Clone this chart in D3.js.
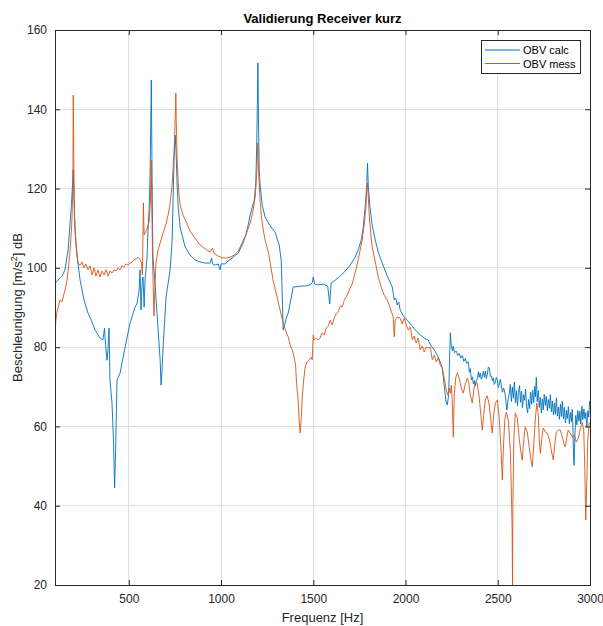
<!DOCTYPE html>
<html>
<head>
<meta charset="utf-8">
<script src="https://cdn.jsdelivr.net/npm/d3@7"></script>
<style>
  html, body { margin: 0; padding: 0; background: #fff; }
  svg { display: block; font-family: "Liberation Sans", Arial, Helvetica, sans-serif; }
</style>
</head>
<body>
<svg id="chart" width="603" height="626"></svg>
<script>
// Frequency response: computed vs measured acceleration level
const calcFreq = [100,116,138,154,171,181,189,195,199,203,208,219,236,257,279,301,317,344,360,368,374,382,387,393,398,409,417,423,428,436,453,480,507,534,545,556,561,566,572,577,583,588,599,604,610,615,620,622,625,629,631,642,659,670,675,680,686,702,724,735,740,745,751,756,762,767,778,805,832,859,886,914,941,949,954,968,984,995,1000,1022,1038,1065,1093,1120,1136,1147,1158,1169,1180,1188,1193,1198,1200,1203,1207,1212,1223,1239,1266,1293,1315,1326,1331,1337,1345,1353,1364,1380,1391,1407,1429,1456,1483,1494,1500,1508,1527,1554,1578,1589,1597,1619,1646,1673,1700,1727,1743,1760,1771,1782,1790,1794,1798,1806,1819,1836,1852,1874,1901,1928,1939,1947,1955,1963,1971,1988,2009,2031,2053,2080,2101,2123,2139,2156,2172,2188,2199,2210,2218,2226,2234,2240,2243,2248,2254,2259,2265,2275,2283,2291,2300,2308,2316,2324,2332,2340,2346,2351,2357,2362,2368,2373,2379,2384,2390,2395,2400,2405,2411,2416,2422,2427,2433,2438,2444,2449,2455,2460,2466,2471,2476,2481,2487,2492,2498,2503,2509,2514,2520,2525,2532,2541,2549,2557,2563,2568,2574,2579,2585,2590,2596,2601,2607,2612,2618,2623,2629,2634,2640,2645,2651,2656,2662,2667,2673,2678,2684,2689,2695,2700,2704,2709,2714,2720,2725,2731,2736,2742,2747,2752,2758,2763,2769,2774,2780,2785,2791,2796,2802,2807,2812,2818,2823,2829,2834,2840,2845,2850,2856,2861,2867,2872,2877,2883,2888,2894,2899,2904,2908,2911,2914,2918,2923,2929,2934,2940,2945,2950,2956,2961,2967,2972,2977,2983,2988,2993,2998,3000];
const calcDb = [96.2,96.9,97.9,99.5,104.5,110.8,115.9,120.9,124.7,117.1,109.5,103.2,96.9,91.9,88.6,86.3,84.3,82.3,81.8,84.8,80.5,76.7,79.3,84.8,71.7,65.9,56.6,44.5,52.8,71.7,73.5,80,86.1,90.1,91.1,94.4,99.5,89.4,95.7,97.7,90.1,96.9,102.7,109.5,114.6,122.2,139.8,147.4,129.7,109.5,102.7,96.2,84.3,76.7,70.4,74.2,80,92.6,99.5,107,117.1,127.2,133.5,129.7,120.9,115.9,110.3,105.3,103.2,102,101.5,101.2,101.2,102.5,101,100.7,101,99.5,101,101,101.7,102.7,103.7,106.3,108.5,110.8,113.3,115.3,117.1,120.9,129.7,144.9,151.7,137.3,124.7,120.9,115.9,112.8,110.6,109,105.8,102,94.4,84.3,85.6,87.3,88.6,92.4,95.2,95.2,95.4,95.4,95.7,96.2,97.7,95.9,95.7,95.9,95.4,90.9,96.2,96.9,97.9,99.2,100.7,102.7,104.5,107,110.3,115.9,120.9,126.4,120.9,115.9,110.8,107,104,101.2,97.9,95.2,91.9,92.4,90.6,91.4,89.4,87.9,86.8,85.6,84.3,83.1,82.3,81.8,80.3,79.3,78,76.3,74.8,70.4,66.7,65.4,67.9,79.3,83.6,80.5,79.1,80.2,78.6,79.0,77.9,78.4,77.2,77.9,76.4,77.1,75.9,76.3,73.7,74.6,71.7,72.5,70.7,71.6,70.2,71.4,72.2,73.8,72.4,73.5,71.9,72.7,73.9,72.4,74,72.1,73.2,75.0,74.7,72.6,72.7,71.5,72.2,70.6,71.2,72.4,71.7,69.8,70.7,71.9,70.2,68.6,69.7,67.9,64.1,67.1,68.4,70.6,66.3,69.9,67.1,71.2,66.0,69.0,65.2,68.5,70.3,66.1,68.9,64.7,68.0,66.6,69.4,65.0,63.4,66.8,64.5,68.7,65.6,69.2,66.0,70.1,67.5,72.4,66.2,69.0,64.8,67.3,63.4,66.9,64.2,68.1,65.3,67.6,63.9,66.8,64.6,68.0,63.7,66.4,62.9,65.9,63.1,67.2,62.6,64.9,61.8,65.6,62.5,66.3,61.9,64.8,60.9,64.1,62.0,65.0,60.7,63.6,61.2,64.3,58.5,52.0,50.2,57.5,62.8,60.4,64.0,61.3,63.8,60.6,65.1,61.7,64.4,62.0,63.5,59.8,63.9,62.4,66.3,65.4,67.0];

const messFreq = [100,105,111,116,127,138,146,154,165,176,184,192,197,199,202,206,214,225,236,246,257,268,279,290,301,312,322,333,344,355,366,377,388,398,409,420,431,442,453,463,474,485,496,507,518,529,539,550,561,569,574,579,583,588,599,610,618,621,625,629,634,637,642,648,659,670,686,702,713,724,735,743,748,753,755,757,762,770,778,794,811,832,859,886,914,941,954,962,984,1006,1027,1049,1071,1093,1114,1136,1158,1174,1185,1193,1199,1203,1210,1218,1229,1239,1256,1266,1282,1304,1320,1337,1353,1364,1375,1386,1396,1404,1410,1418,1423,1429,1434,1440,1448,1456,1467,1478,1489,1494,1500,1505,1516,1527,1537,1548,1559,1570,1581,1592,1603,1613,1624,1635,1646,1657,1668,1678,1689,1700,1711,1722,1733,1743,1754,1765,1776,1785,1790,1794,1798,1803,1811,1819,1836,1852,1868,1884,1901,1917,1933,1939,1944,1955,1971,1982,1993,2004,2015,2026,2037,2047,2058,2069,2080,2091,2101,2112,2123,2134,2145,2156,2166,2177,2188,2199,2210,2221,2229,2237,2243,2248,2253,2259,2264,2272,2281,2291,2302,2313,2324,2335,2343,2351,2362,2370,2378,2389,2400,2411,2416,2424,2432,2443,2454,2465,2470,2478,2487,2498,2508,2519,2525,2530,2538,2546,2557,2568,2573,2578,2580,2582,2587,2595,2606,2617,2628,2633,2641,2649,2660,2671,2682,2687,2695,2703,2712,2720,2725,2731,2739,2747,2758,2769,2780,2790,2801,2809,2817,2828,2839,2850,2861,2866,2874,2882,2893,2904,2915,2926,2937,2948,2958,2966,2972,2977,2983,2988,2996,3000];
const messDb = [83.6,86.8,88.9,89.9,91.9,91.4,92.9,94.4,96.9,101.5,105.8,112.1,122.2,143.6,127.2,113.3,105.8,101.2,100.7,101.5,100,101,99.5,100.5,98.2,100,97.9,99.5,97.7,99.2,98.2,99.5,97.9,99.2,98.7,99.5,99.2,100,99.5,100.5,100.2,101,100.7,101.2,101.5,102,102.2,102.7,102,101.2,98.2,116.4,108.3,108.8,109.8,111.6,117.1,127.2,114.6,102,91.9,87.9,95.7,101.5,104.5,106.3,108.8,111.1,113.3,116.4,120.9,127.2,132.3,139.8,144.1,137.3,127.2,119.6,115.9,113.3,111.6,109.3,107.5,105.8,104.8,104,105,103.7,103,102.5,102.5,102.7,103.2,104.2,106.3,108.5,111.3,114.6,117.9,123.4,131.5,124.7,118.4,113.3,109.5,107,104,101.5,96.9,92.6,89.4,86.1,83.8,82.6,80.5,79.3,77.5,75.5,70.4,66.7,61.6,58.3,61.6,67.2,71.7,75,76.3,76.8,77.5,76.8,83.1,81.8,82.3,81.8,82.3,83.6,83.1,84.8,85.3,86.8,85.6,87.3,88.4,88.9,90.4,90.1,91.9,92.6,93.7,94.9,95.9,97.9,99.9,102,104.5,107,110.8,115.1,119.1,121.4,118.4,113.3,109,105.3,101.5,97.7,95.2,93.1,91.9,89.9,87.6,82.6,86.8,87.6,87.3,85.8,87.3,85.6,84.3,85.1,81.8,82.8,81,82.3,79.3,80.3,78.8,80,79.8,80,76.8,78,76.3,77.3,75.5,74.8,72.2,69.2,67.9,69.7,68.4,70.4,66.7,57.3,67.9,72.2,73.5,72.2,69.7,68.4,70.7,72.2,71.2,67.9,65.9,69.2,71.2,70.9,67.1,61.6,59.1,62.9,66.7,67.7,65.4,60.4,58.3,62.9,65.9,66.7,62.1,52.8,46.5,54.1,61.6,63.6,61.6,54.1,45.2,33.9,20,40.2,56.6,63.4,62.1,56.6,52.8,51.5,56.6,59.9,58.6,54.6,51,49.8,55.3,61.6,65.9,62.9,56.6,53.2,57.1,59.6,58.6,58.3,56.6,54.1,51.5,55.3,58.6,59.1,59.1,57.3,55.3,54.9,57.1,59.1,58.3,57.3,57.8,56.1,57.1,59.6,60.9,59.1,49,36.4,46.5,56.6,60.9,60.9];

const xTicks = [500, 1000, 1500, 2000, 2500, 3000];
const yTicks = [20, 40, 60, 80, 100, 120, 140, 160];
const seriesNames = ["OBV calc", "OBV mess"];
const seriesColors = ["#0072BD", "#D95319"];

const svg = d3.select("#chart");
const margin = { left: 55, top: 30, right: 13, bottom: 41 };
const W = 603, H = 626;
const iw = W - margin.left - margin.right;
const ih = H - margin.top - margin.bottom;

const x = d3.scaleLinear().domain([100, 3000]).range([0, iw]);
const y = d3.scaleLinear().domain([20, 160]).range([ih, 0]);

const g = svg.append("g").attr("transform", `translate(${margin.left},${margin.top})`);

// grid
g.append("g").selectAll("line").data(xTicks).join("line")
  .attr("x1", d => x(d)).attr("x2", d => x(d)).attr("y1", 0).attr("y2", ih)
  .attr("stroke", "#dedede").attr("stroke-width", 1).attr("shape-rendering", "crispEdges");
g.append("g").selectAll("line").data(yTicks).join("line")
  .attr("x1", 0).attr("x2", iw).attr("y1", d => y(d)).attr("y2", d => y(d))
  .attr("stroke", "#dedede").attr("stroke-width", 1).attr("shape-rendering", "crispEdges");

// traces
g.append("clipPath").attr("id", "clip").append("rect").attr("width", iw).attr("height", ih);
const line = d3.line().x(d => x(d[0])).y(d => y(d[1]));
const traces = [
  d3.zip(calcFreq, calcDb),
  d3.zip(messFreq, messDb)
];
g.append("g").attr("clip-path", "url(#clip)").selectAll("path").data(traces).join("path")
  .attr("d", line)
  .attr("fill", "none")
  .attr("stroke", (d, i) => seriesColors[i])
  .attr("stroke-width", 0.9)
  .attr("stroke-linejoin", "round");

// axes (ticks inside, box on)
const axisColor = "#262626";
const fmt = d3.format("d");
const xAxisB = d3.axisBottom(x).tickValues(xTicks).tickFormat(fmt).tickSizeInner(-5).tickSizeOuter(0).tickPadding(9);
const xAxisT = d3.axisTop(x).tickValues(xTicks).tickSizeInner(-5).tickSizeOuter(0).tickFormat("");
const yAxisL = d3.axisLeft(y).tickValues(yTicks).tickFormat(fmt).tickSizeInner(-5).tickSizeOuter(0).tickPadding(8);
const yAxisR = d3.axisRight(y).tickValues(yTicks).tickSizeInner(-5).tickSizeOuter(0).tickFormat("");

function styleAxis(sel) {
  sel.select(".domain").remove();
  sel.selectAll("line").attr("stroke", axisColor);
  sel.selectAll("text").attr("fill", axisColor).attr("font-size", 12)
     .attr("font-family", "'Liberation Sans', Arial, sans-serif");
}
g.append("g").attr("transform", `translate(0,${ih})`).call(xAxisB).call(styleAxis);
g.append("g").call(xAxisT).call(styleAxis);
g.append("g").call(yAxisL).call(styleAxis);
g.append("g").attr("transform", `translate(${iw},0)`).call(yAxisR).call(styleAxis);

g.append("rect").attr("x", 0).attr("y", 0).attr("width", iw).attr("height", ih)
  .attr("fill", "none").attr("stroke", axisColor).attr("stroke-width", 1)
  .attr("shape-rendering", "crispEdges");

// title and labels
svg.append("text").attr("x", margin.left + iw / 2).attr("y", 23)
  .attr("text-anchor", "middle").attr("font-size", 13).attr("font-weight", "bold")
  .attr("fill", "#000").text("Validierung Receiver kurz");

svg.append("text").attr("x", margin.left + iw / 2).attr("y", 622)
  .attr("text-anchor", "middle").attr("font-size", 13).attr("fill", axisColor)
  .text("Frequenz [Hz]");

const yl = svg.append("text")
  .attr("transform", `translate(22,${margin.top + ih / 2}) rotate(-90)`)
  .attr("text-anchor", "middle").attr("font-size", 13).attr("fill", axisColor);
yl.append("tspan").text("Beschleunigung [m/s");
yl.append("tspan").attr("baseline-shift", "super").attr("font-size", 9).text("2");
yl.append("tspan").text("] dB");

// legend
const lg = svg.append("g").attr("transform", "translate(481,40)");
lg.append("rect").attr("width", 99).attr("height", 33)
  .attr("fill", "#fff").attr("stroke", axisColor).attr("stroke-width", 1)
  .attr("shape-rendering", "crispEdges");
seriesNames.forEach((name, i) => {
  const yy = 10 + i * 13.5;
  lg.append("line").attr("x1", 4).attr("x2", 39).attr("y1", yy).attr("y2", yy)
    .attr("stroke", seriesColors[i]).attr("stroke-width", 1);
  lg.append("text").attr("x", 42).attr("y", yy + 4).attr("font-size", 11)
    .attr("fill", "#000").text(name);
});
</script>
</body>
</html>
